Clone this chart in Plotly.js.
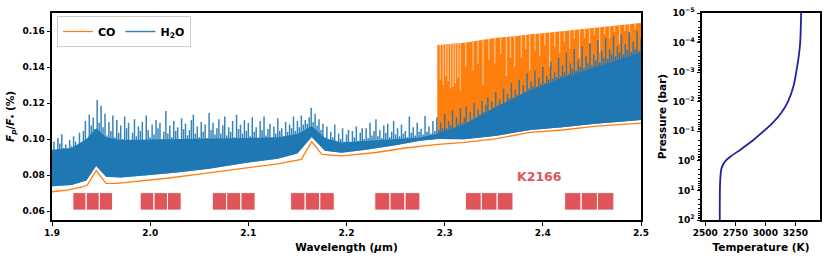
<!DOCTYPE html>
<html><head><meta charset="utf-8">
<script src="https://cdn.plot.ly/plotly-3.0.1.min.js"></script>
<style>html,body{margin:0;padding:0;background:#fff}#c{width:830px;height:260px}</style>
</head><body><div id="c"></div>
<script>
// ---- CO continuum (lower envelope) ----
const co_wl  = [1.900,1.915,1.930,1.936,1.945,1.955,1.966,1.990,2.017,2.050,2.075,2.100,2.130,2.154,2.1645,2.175,2.195,2.230,2.260,2.293,2.318,2.353,2.387,2.420,2.454,2.500];
const co_low = [0.0707,0.0716,0.0732,0.0744,0.0826,0.0754,0.0754,0.0766,0.0782,0.0805,0.0822,0.0841,0.0862,0.0887,0.0985,0.0915,0.0906,0.0925,0.0950,0.0970,0.0980,0.1002,0.1037,0.1050,0.1072,0.1088];
// ---- CO band (2.29-2.5 um) ----
const co_band_wl = [2.2925,2.300,2.320,2.340,2.353,2.370,2.387,2.400,2.420,2.440,2.454,2.480,2.500];
const co_band_lo = [0.0970,0.0972,0.0981,0.0992,0.1002,0.1020,0.1037,0.1043,0.1050,0.1062,0.1072,0.1080,0.1088];
const co_band_hi = [0.1522,0.1525,0.1535,0.1552,0.1563,0.1570,0.1582,0.1588,0.1600,0.1612,0.1620,0.1633,0.1645];
// pale stripes inside CO band
const co_gap_wl  = [2.2955,2.2984,2.3010,2.3035,2.3060,2.3086,2.3110,2.3136,2.3160,2.3215,2.3289,2.3340,2.3391,2.3450,2.3510,2.3570,2.3629,2.3670,2.3713,2.3781,2.3825,2.3866,2.3920,2.3967,2.4020,2.4069,2.4120,2.4171,2.4220,2.4273,2.4320,2.4374,2.4425,2.4476,2.4525,2.4578,2.4630,2.4680,2.4730,2.4781,2.4835,2.4883,2.4940];
const co_gap_top = [0.1522,0.1524,0.1525,0.1527,0.1529,0.1530,0.1531,0.1532,0.1533,0.1536,0.1542,0.1546,0.1550,0.1556,0.1561,0.1564,0.1566,0.1568,0.1570,0.1576,0.1579,0.1582,0.1584,0.1586,0.1589,0.1592,0.1595,0.1598,0.1601,0.1604,0.1607,0.1610,0.1613,0.1616,0.1618,0.1621,0.1624,0.1627,0.1630,0.1632,0.1635,0.1638,0.1641];
const co_gap_bot = [0.1330,0.1300,0.1350,0.1320,0.1280,0.1290,0.1310,0.1340,0.1270,0.1400,0.1380,0.1420,0.1300,0.1440,0.1420,0.1470,0.1350,0.1450,0.1400,0.1450,0.1500,0.1380,0.1490,0.1460,0.1520,0.1400,0.1510,0.1480,0.1540,0.1500,0.1555,0.1450,0.1560,0.1530,0.1575,0.1480,0.1580,0.1560,0.1595,0.1530,0.1600,0.1580,0.1610];
// ---- H2O solid band ----
const h2o_band_wl = [1.900,1.920,1.935,1.945,1.955,1.970,2.000,2.030,2.060,2.100,2.130,2.150,2.1645,2.178,2.195,2.220,2.250,2.275,2.293,2.320,2.353,2.387,2.420,2.454,2.500];
const h2o_band_lo = [0.0737,0.0745,0.0770,0.0850,0.0790,0.0786,0.0800,0.0815,0.0835,0.0869,0.0890,0.0920,0.1011,0.0935,0.0924,0.0940,0.0965,0.0990,0.1000,0.0998,0.1018,0.1050,0.1065,0.1085,0.1105];
const h2o_band_hi = [0.0940,0.0950,0.1000,0.1060,0.1010,0.0995,0.0995,0.1000,0.1002,0.1006,0.1008,0.1028,0.1072,0.1005,0.0980,0.0988,0.0998,0.1008,0.1030,0.1080,0.1180,0.1270,0.1340,0.1400,0.1480];
// ---- H2O line forest (line peaks) ----
const h2o_wl = [
1.900,1.902,1.904,1.906,1.908,1.910,1.912,1.914,1.916,1.918,
1.920,1.922,1.924,1.926,1.928,1.930,1.932,1.934,1.936,1.938,
1.940,1.942,1.944,1.946,1.948,1.950,1.952,1.954,1.956,1.958,
1.960,1.962,1.964,1.966,1.968,1.970,1.972,1.974,1.976,1.978,
1.980,1.982,1.984,1.986,1.988,1.990,1.992,1.994,1.996,1.998,
2.000,2.002,2.004,2.006,2.008,2.010,2.012,2.014,2.016,2.018,
2.020,2.022,2.024,2.026,2.028,2.030,2.032,2.034,2.036,2.038,
2.040,2.042,2.044,2.046,2.048,2.050,2.052,2.054,2.056,2.058,
2.060,2.062,2.064,2.066,2.068,2.070,2.072,2.074,2.076,2.078,
2.080,2.082,2.084,2.086,2.088,2.090,2.092,2.094,2.096,2.098,
2.100,2.102,2.104,2.106,2.108,2.110,2.112,2.114,2.116,2.118,
2.120,2.122,2.124,2.126,2.128,2.130,2.132,2.134,2.136,2.138,
2.140,2.142,2.144,2.146,2.148,2.150,2.152,2.154,2.156,2.158,
2.160,2.162,2.164,2.166,2.168,2.170,2.172,2.174,2.176,2.178,
2.180,2.182,2.184,2.186,2.188,2.190,2.192,2.194,2.196,2.198,
2.200,2.202,2.204,2.206,2.208,2.210,2.212,2.214,2.216,2.218,
2.220,2.222,2.224,2.226,2.228,2.230,2.232,2.234,2.236,2.238,
2.240,2.242,2.244,2.246,2.248,2.250,2.252,2.254,2.256,2.258,
2.260,2.262,2.264,2.266,2.268,2.270,2.272,2.274,2.276,2.278,
2.280,2.282,2.284,2.286,2.288,2.290,2.292,2.294,2.296,2.298,
2.300,2.302,2.304,2.306,2.308,2.310,2.312,2.314,2.316,2.318,
2.320,2.322,2.324,2.326,2.328,2.330,2.332,2.334,2.336,2.338,
2.340,2.342,2.344,2.346,2.348,2.350,2.352,2.354,2.356,2.358,
2.360,2.362,2.364,2.366,2.368,2.370,2.372,2.374,2.376,2.378,
2.380,2.382,2.384,2.386,2.388,2.390,2.392,2.394,2.396,2.398,
2.400,2.402,2.404,2.406,2.408,2.410,2.412,2.414,2.416,2.418,
2.420,2.422,2.424,2.426,2.428,2.430,2.432,2.434,2.436,2.438,
2.440,2.442,2.444,2.446,2.448,2.450,2.452,2.454,2.456,2.458,
2.460,2.462,2.464,2.466,2.468,2.470,2.472,2.474,2.476,2.478,
2.480,2.482,2.484,2.486,2.488,2.490,2.492,2.494,2.496,2.498,
2.500];
const h2o_flux = [
0.0930,0.0985,0.0940,0.1005,0.0975,0.1026,0.0950,0.0970,0.0945,0.0995,
0.0960,0.1015,0.0985,0.0955,0.1035,0.0970,0.1045,0.1100,0.1000,0.1135,
0.1075,0.1120,0.1055,0.1216,0.1090,0.1185,0.1065,0.1140,0.1020,0.1095,
0.1045,0.1130,0.1010,0.1105,0.1035,0.1075,0.1000,0.1125,0.1060,0.1090,
0.0990,0.1035,0.1110,0.1015,0.1070,0.1045,0.1095,0.0995,0.1130,0.1050,
0.1010,0.1080,0.1025,0.1105,0.1060,0.1090,0.1000,0.1040,0.1155,0.1030,
0.1075,0.1010,0.1100,0.1045,0.1065,0.1000,0.1115,0.1055,0.1085,0.1020,
0.1050,0.1105,0.1135,0.1030,0.1070,0.1010,0.1095,0.1040,0.1080,0.1005,
0.1145,0.1050,0.1090,0.1025,0.1060,0.1110,0.1030,0.1075,0.1125,0.1020,
0.1065,0.1040,0.1100,0.1010,0.1135,0.1055,0.1080,0.1030,0.1105,0.1045,
0.1090,0.1015,0.1120,0.1040,0.1065,0.1005,0.1100,0.1050,0.1125,0.1020,
0.1055,0.1085,0.1010,0.1070,0.1030,0.1115,0.1045,0.1060,0.1015,0.1095,
0.1040,0.1080,0.1060,0.1125,0.1045,0.1100,0.1065,0.1130,0.1080,0.1105,
0.1085,0.1120,0.1174,0.1095,0.1140,0.1075,0.1110,0.1050,0.1085,0.1010,
0.1070,0.0990,0.1040,0.1010,0.1080,0.0980,0.1030,0.1000,0.1060,0.0985,
0.1025,0.1050,0.0985,0.1045,0.1010,0.1070,0.0990,0.1035,0.1060,0.1000,
0.1060,0.1005,0.1090,0.1020,0.1045,0.1110,0.1015,0.1050,0.1005,0.1075,
0.1035,0.1085,0.1010,0.1040,0.1100,0.1025,0.1060,0.1015,0.1080,0.1030,
0.1045,0.1010,0.1125,0.1035,0.1065,0.1020,0.1090,0.1040,0.1055,0.1025,
0.1128,0.1040,0.1070,0.1030,0.1100,0.1045,0.1120,0.1050,0.1090,0.1060,
0.1140,0.1060,0.1100,0.1075,0.1160,0.1065,0.1120,0.1085,0.1170,0.1090,
0.1120,0.1180,0.1095,0.1150,0.1110,0.1200,0.1120,0.1165,0.1135,0.1210,
0.1150,0.1190,0.1230,0.1160,0.1210,0.1175,0.1260,0.1185,0.1220,0.1195,
0.1280,0.1205,0.1250,0.1225,0.1310,0.1230,0.1275,0.1245,0.1330,0.1250,
0.1300,0.1265,0.1365,0.1280,0.1320,0.1295,0.1380,0.1290,0.1340,0.1305,
0.1400,0.1310,0.1350,0.1330,0.1430,0.1335,0.1375,0.1345,0.1450,0.1350,
0.1410,0.1370,0.1480,0.1360,0.1420,0.1390,0.1500,0.1380,0.1440,0.1400,
0.1515,0.1395,0.1460,0.1420,0.1530,0.1410,0.1470,0.1435,0.1550,0.1425,
0.1490,0.1450,0.1560,0.1445,0.1500,0.1470,0.1570,0.1460,0.1515,0.1480,
0.1580,0.1470,0.1530,0.1495,0.1595,0.1485,0.1540,0.1500,0.1600,0.1490,
0.1560];
// ---- spectral bins (red boxes) ----
const bin_centers = [1.9280,1.9415,1.9549, 1.9968,2.0107,2.0246, 2.0706,2.0851,2.0996, 2.1505,2.1653,2.1801, 2.2365,2.2518,2.2671, 2.3293,2.3454,2.3615, 2.4306,2.4473,2.4640];
const bin_widths  = [0.0134,0.0134,0.0134, 0.0139,0.0139,0.0139, 0.0145,0.0145,0.0145, 0.0148,0.0148,0.0148, 0.0153,0.0153,0.0153, 0.0161,0.0161,0.0161, 0.0167,0.0167,0.0167];
const bin_lo = 0.0605, bin_hi = 0.0702;
const label_text = 'K2166', label_wl = 2.3967, label_val = 0.0794;
// ---- T-P profile ----
const tp_P = [100,10,4.27,1.95,1.41,1.0,0.69,0.41,0.19,0.1,0.05,0.0237,0.01,0.003,0.001,0.00029,0.0001,0.00001];
const tp_T = [2620,2621,2624,2632,2645,2668,2715,2795,2905,2985,3065,3133,3188,3234,3257,3278,3290,3298];
const x_ticks = [1.9,2.0,2.1,2.2,2.3,2.4,2.5];
const y_ticks = [0.06,0.08,0.10,0.12,0.14,0.16];
const y_range = [0.055,0.17];
const t_ticks = [2500,2750,3000,3250];
const p_ticks = [1e-5,1e-4,1e-3,1e-2,1e-1,1,10,100];
const p_labels = ['10<sup>−5</sup>','10<sup>−4</sup>','10<sup>−3</sup>','10<sup>−2</sup>','10<sup>−1</sup>','10<sup>0</sup>','10<sup>1</sup>','10<sup>2</sup>'];

function poly(x1, y1, x2, y2){ return {x: x1.concat(x2.slice().reverse()), y: y1.concat(y2.slice().reverse())}; }
const floor = y_range[0];
const coPoly = poly(co_band_wl, co_band_lo, co_band_wl, co_band_hi);
const h2oPoly = poly(h2o_band_wl, h2o_band_lo, h2o_band_wl, h2o_band_hi);
const maskPoly = poly(h2o_band_wl, h2o_band_wl.map(()=>floor), h2o_band_wl, h2o_band_lo);
const gx=[], gy=[];
co_gap_wl.forEach((w,i)=>{ gx.push(w,w,null); gy.push(co_gap_bot[i], co_gap_top[i], null); });
const sx=[], sy=[];
h2o_wl.forEach((w,i)=>{ sx.push(w,w,null); sy.push(floor, h2o_flux[i], null); });
const bx=[], by=[];
bin_centers.forEach((c,i)=>{ const h=bin_widths[i]/2; bx.push(c-h,c+h,c+h,c-h,c-h,null); by.push(bin_lo,bin_lo,bin_hi,bin_hi,bin_lo,null); });

const F = 'DejaVu Sans';
const traces = [
  {x: coPoly.x, y: coPoly.y, fill:'toself', fillcolor:'#ff7f0e', mode:'lines', line:{width:0, color:'#ff7f0e'}, showlegend:false},
  {x: gx, y: gy, mode:'lines', line:{color:'#ffc18a', width:1.3}, showlegend:false},
  {x: sx, y: sy, mode:'lines', name:'H<sub>2</sub>O', line:{color:'rgba(31,119,180,0.9)', width:1.5}, legendrank:2},
  {x: maskPoly.x, y: maskPoly.y, fill:'toself', fillcolor:'#ffffff', mode:'lines', line:{width:0, color:'#ffffff'}, showlegend:false},
  {x: h2oPoly.x, y: h2oPoly.y, fill:'toself', fillcolor:'#1f77b4', mode:'lines', line:{width:0, color:'#1f77b4'}, showlegend:false},
  {x: co_wl, y: co_low, mode:'lines', name:'CO', line:{color:'#ff7f0e', width:1.3}, legendrank:1},
  {x: bx, y: by, fill:'toself', fillcolor:'#e0555a', mode:'lines', line:{color:'rgba(255,255,255,0.9)', width:1}, showlegend:false},
  {x: tp_T, y: tp_P, mode:'lines', line:{color:'#2222a0', width:1.8, shape:'spline', smoothing:0.8}, xaxis:'x2', yaxis:'y2', showlegend:false}
];

const tickfont = {family:F, size:9, color:'#000', weight:'bold'};
const axBase = {showline:true, mirror:true, linecolor:'#000', linewidth:2, ticks:'outside', ticklen:3.5, tickwidth:1, tickcolor:'#000', showgrid:false, zeroline:false, tickfont:tickfont, automargin:false};
const layout = {
  width:830, height:260, margin:{l:0,r:0,t:0,b:0}, paper_bgcolor:'#fff', plot_bgcolor:'#fff',
  showlegend:true, hovermode:false,
  legend:{x:57/830, y:(260-16)/260, xanchor:'left', yanchor:'top', orientation:'h', bgcolor:'#fff', bordercolor:'#cccccc', borderwidth:1,
    font:{family:F, size:11, color:'#000', weight:'bold'}, itemwidth:30, tracegroupgap:0, traceorder:'normal'},
  xaxis: Object.assign({}, axBase, {domain:[52/830, 641/830], range:[1.9,2.5], tickvals:x_ticks, tickformat:'.1f', anchor:'y',
    title:{text:'Wavelength (<i>μ</i>m)', font:{family:F, size:10.5, color:'#000', weight:'bold'}, standoff:6}}),
  yaxis: Object.assign({}, axBase, {domain:[40/260, 247/260], range:y_range, tickvals:y_ticks, tickformat:'.2f', anchor:'x',
    title:{text:'<i>F<sub>p</sub></i>/<i>F</i><sub>*</sub> (%)', font:{family:F, size:10.5, color:'#000', weight:'bold'}, standoff:6}}),
  xaxis2: Object.assign({}, axBase, {domain:[702/830, 820/830], range:[2472,3455], tickvals:t_ticks, anchor:'y2',
    title:{text:'Temperature (K)', font:{family:F, size:10.5, color:'#000', weight:'bold'}, standoff:6}}),
  yaxis2: Object.assign({}, axBase, {domain:[40/260, 247/260], type:'log', range:[2,-5], tickvals:p_ticks, ticktext:p_labels, anchor:'x2',
    minor:{ticks:'outside', ticklen:2, tickcolor:'#000', dtick:'D1', showgrid:false},
    title:{text:'Pressure (bar)', font:{family:F, size:10.5, color:'#000', weight:'bold'}, standoff:4}}),
  annotations:[{x:label_wl, y:label_val, xref:'x', yref:'y', text:label_text, showarrow:false,
    font:{family:F, size:12.5, color:'#e0555a', weight:'bold'}}]
};
Plotly.newPlot('c', traces, layout, {staticPlot:true, displayModeBar:false});
</script></body></html>
